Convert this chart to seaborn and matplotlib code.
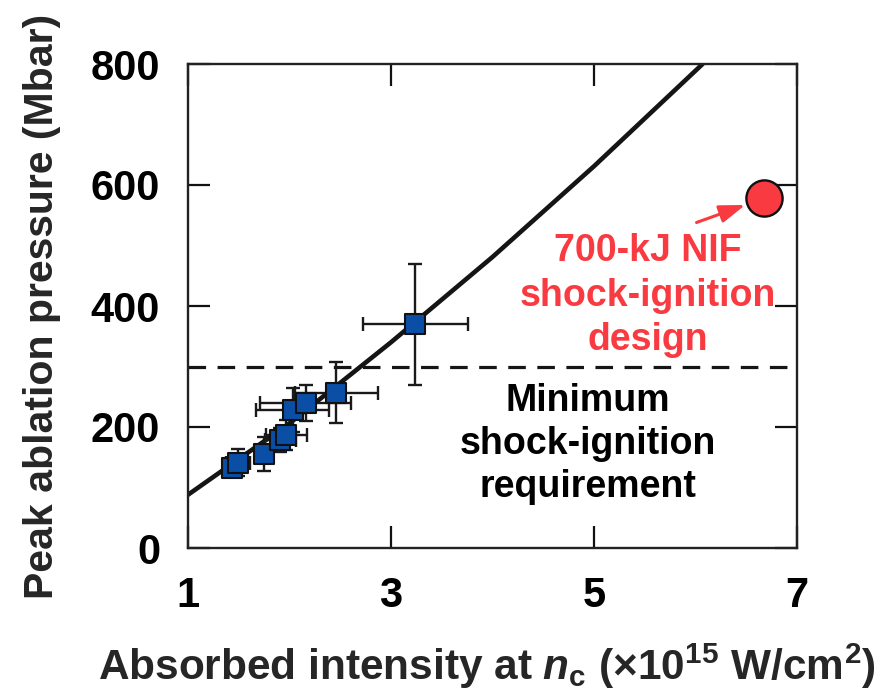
import numpy as np
import pandas as pd
import matplotlib
matplotlib.use("Agg")
import matplotlib.pyplot as plt
import seaborn as sns

# ---- data ----
intensity = [1.43, 1.49, 1.75, 1.91, 1.97, 2.03, 2.16, 2.46, 3.24]
pressure = [132, 141, 156, 178, 187, 228, 240, 257, 370]
x_err = [0.08, 0.12, 0.08, 0.15, 0.20, 0.36, 0.45, 0.41, 0.52]
y_err = [15, 22, 28, 20, 25, 37, 30, 50, 100]

fit_x = [1.0, 2.0, 3.0, 4.0, 5.0, 6.07]
fit_y = [88, 206, 340, 481, 631, 800]

nif_x = [6.67]
nif_y = [578]

threshold = 300

x_ticks = [1, 3, 5, 7]
y_ticks = [0, 200, 400, 600, 800]

blue = "#0a4ea6"
red = "#f93a40"

sns.set_theme(style="white")
plt.rcParams["font.family"] = ["Liberation Sans", "DejaVu Sans"]
plt.rcParams["font.weight"] = "bold"
plt.rcParams["mathtext.fontset"] = "custom"
plt.rcParams["mathtext.rm"] = "Liberation Sans:bold"
plt.rcParams["mathtext.bf"] = "Liberation Sans:bold"
plt.rcParams["mathtext.it"] = "Liberation Sans:bold:italic"

fig = plt.figure(figsize=(8.92, 6.93), dpi=100)
ax = fig.add_axes([188 / 892, 1 - 548 / 693, 609 / 892, 484 / 693])

df = pd.DataFrame({"I": intensity, "P": pressure})
fit = pd.DataFrame({"I": fit_x, "P": fit_y})

# fit line
sns.lineplot(data=fit, x="I", y="P", ax=ax, color="#151515", lw=3.3,
             zorder=2, clip_on=True)

# threshold dashed line
ax.axhline(threshold, color="#151515", lw=2.3, dashes=(5.5, 3.6), zorder=1)

# error bars
ax.errorbar(intensity, pressure, xerr=x_err, yerr=y_err, fmt="none",
            ecolor="#1a1a1a", elinewidth=1.7, capsize=5, capthick=1.7,
            zorder=3)

# data squares
sns.scatterplot(data=df, x="I", y="P", ax=ax, marker="s", s=225,
                color=blue, edgecolor="#111111", linewidth=1.5, zorder=4)

# NIF design point
sns.scatterplot(x=nif_x, y=nif_y, ax=ax, marker="o", s=680, color=red,
                edgecolor="#111111", linewidth=1.7, zorder=5, clip_on=False)

ax.annotate("", xy=(6.49, 567), xytext=(6.01, 538),
            arrowprops=dict(arrowstyle="-|>,head_length=1.3,head_width=0.45",
                            color=red, lw=2.2, shrinkA=0, shrinkB=0))

ax.text(5.53, 417, "700-kJ NIF\nshock-ignition\ndesign", color=red,
        fontsize=27, fontweight="bold", ha="center", va="center",
        linespacing=1.3)
ax.text(4.94, 172, "Minimum\nshock-ignition\nrequirement", color="black",
        fontsize=27, fontweight="bold", ha="center", va="center",
        linespacing=1.26)

ax.set_xlim(1, 7)
ax.set_ylim(0, 800)
ax.set_xticks(x_ticks)
ax.set_yticks(y_ticks)
ax.set_xticklabels([str(t) for t in x_ticks])
ax.set_yticklabels([str(t) for t in y_ticks])

ax.tick_params(axis="both", direction="in", length=16, width=1.6,
               top=True, right=True, bottom=True, left=True,
               labelsize=30, colors="#111111", labelcolor="black")
ax.tick_params(axis="x", pad=20)
ax.tick_params(axis="y", pad=20)
for lab in ax.get_xticklabels() + ax.get_yticklabels():
    lab.set_fontweight("bold")

for sp in ax.spines.values():
    sp.set_visible(True)
    sp.set_linewidth(1.7)
    sp.set_color("#222222")

ax.set_xlabel(r"Absorbed intensity at $\mathit{n}_{\mathrm{c}}$ (×10$^{\mathrm{15}}$ W/cm$^{\mathrm{2}}$)",
              fontsize=30.5, fontweight="bold")
ax.set_ylabel("Peak ablation pressure (Mbar)", fontsize=29.5, fontweight="bold")
ax.xaxis.set_label_coords(0.49, -0.245)
ax.yaxis.set_label_coords(-0.24, 0.50)
ax.xaxis.label.set_va("center")
ax.yaxis.label.set_va("center")

fig.savefig("out.png", dpi=100)
